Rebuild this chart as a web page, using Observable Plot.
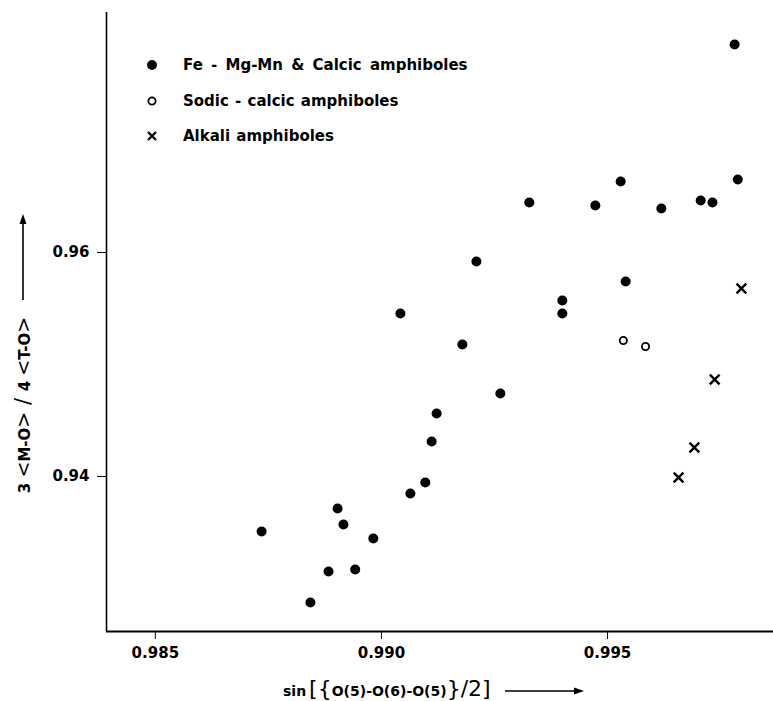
<!DOCTYPE html>
<html><head><meta charset="utf-8">
<script src="https://cdn.jsdelivr.net/npm/d3@7"></script>
<script src="https://cdn.jsdelivr.net/npm/@observablehq/plot@0.6"></script>
<style>
body{margin:0;background:#fff;}
#wrap{position:relative;width:773px;height:701px;}
#wrap svg{position:absolute;left:0;top:0;}
</style></head><body><div id="wrap"></div>
<script>
// Fe-Mg-Mn & Calcic amphiboles (filled)
const fillX = [0.99781,0.99788,0.99706,0.99732,0.99619,0.99529,0.99473,0.99327,0.99210,0.99540,0.99400,0.99400,0.99042,0.99179,0.99263,0.99122,0.99111,0.99097,0.99064,0.98903,0.98916,0.98982,0.98735,0.98883,0.98942,0.98843];
const fillY = [0.97857,0.96652,0.96464,0.96446,0.96393,0.96634,0.96420,0.96446,0.95920,0.95741,0.95571,0.95455,0.95455,0.95179,0.94741,0.94562,0.94313,0.93946,0.93848,0.93714,0.93571,0.93446,0.93509,0.93152,0.93170,0.92875];
// Sodic-calcic amphiboles (open)
const openX = [0.99535,0.99584];
const openY = [0.95214,0.95161];
// Alkali amphiboles (crosses)
const crossX = [0.99796,0.99737,0.99692,0.99657];
const crossY = [0.95679,0.94866,0.94259,0.93991];

const xTicks = [0.985,0.990,0.995];
const yTicks = [0.94,0.96];
const xDomain = [0.98392,0.99867];
const yDomain = [0.92616,0.98143];
const legendLabels = ["Fe - Mg-Mn & Calcic amphiboles","Sodic - calcic amphiboles","Alkali amphiboles"];
const legendSymbols = ["filled","open","cross"];

const toPts = (xs, ys) => xs.map((x,i)=>({x, y: ys[i]}));
const FONT = "DejaVu Sans";

const chart = Plot.plot({
  width: 773, height: 701,
  marginLeft: 106, marginRight: 0, marginTop: 12, marginBottom: 70,
  style: {fontFamily: FONT, fontSize: "15px", fontWeight: "bold", color: "#000", background: "#fff"},
  x: {domain: xDomain, ticks: xTicks, tickFormat: ".3f", label: null, tickSize: 8, tickPadding: 8},
  y: {domain: yDomain, ticks: yTicks, tickFormat: ".2f", label: null, tickSize: 9, tickPadding: 8},
  marks: [
    Plot.ruleX([xDomain[0]], {stroke: "#000", strokeWidth: 1.6}),
    Plot.ruleY([yDomain[0]], {stroke: "#000", strokeWidth: 2}),
    Plot.dot(toPts(fillX, fillY), {x: "x", y: "y", r: 5, fill: "#000", stroke: "none"}),
    Plot.dot(toPts(openX, openY), {x: "x", y: "y", r: 3.6, fill: "none", stroke: "#000", strokeWidth: 1.8}),
    Plot.dot(toPts(crossX, crossY), {x: "x", y: "y", symbol: "times", r: 4.5, stroke: "#000", strokeWidth: 2.4})
  ]
});
const wrap = document.getElementById("wrap");
wrap.appendChild(chart);

// Overlay: legend and axis titles
const ov = d3.select(wrap).append("svg").attr("width", 773).attr("height", 701)
  .style("font-family", FONT).style("font-weight", "bold");

const ly = [65, 101, 136];
legendSymbols.forEach((s, i) => {
  const g = ov.append("g").attr("transform", `translate(152,${ly[i]})`);
  if (s === "filled") g.append("circle").attr("r", 5).attr("fill", "#000");
  else if (s === "open") g.append("circle").attr("r", 3.6).attr("fill", "none").attr("stroke", "#000").attr("stroke-width", 1.8);
  else g.append("path").attr("d", "M-4,-4L4,4M4,-4L-4,4").attr("stroke", "#000").attr("stroke-width", 2.4);
  ov.append("text").attr("x", 183).attr("y", ly[i]).attr("dy", "0.35em")
    .attr("font-size", 15).attr("word-spacing", i === 0 ? 3 : 1).text(legendLabels[i]);
});

// Y axis title (rotated) with up arrow
const yt = ov.append("text").attr("transform", "translate(25,405) rotate(-90)")
  .attr("text-anchor", "middle").attr("dy", "0.35em").attr("font-size", 15);
const br = (t) => yt.append("tspan").attr("font-weight", "normal").attr("font-size", 19).text(t);
yt.append("tspan").text("3 "); br("<"); yt.append("tspan").text("M-O"); br(">");
yt.append("tspan").attr("font-weight", "normal").attr("font-size", 21).text(" / ");
yt.append("tspan").text("4 "); br("<"); yt.append("tspan").text("T-O"); br(">");
ov.append("line").attr("x1", 23).attr("x2", 23).attr("y1", 300).attr("y2", 222).attr("stroke", "#000").attr("stroke-width", 1.6);
ov.append("path").attr("d", "M23,214L19.5,224L26.5,224Z").attr("fill", "#000");

// X axis title with right arrow
const xt = ov.append("text").attr("x", 283).attr("y", 691).attr("dy", "0.35em").attr("font-size", 14);
xt.append("tspan").text("sin");
xt.append("tspan").attr("font-size", 22).attr("font-weight", "normal").attr("dx", 3).text("[{");
xt.append("tspan").text("O(5)-O(6)-O(5)");
xt.append("tspan").attr("font-size", 22).attr("font-weight", "normal").text("}/2]");
ov.append("line").attr("x1", 505).attr("x2", 576).attr("y1", 691).attr("y2", 691).attr("stroke", "#000").attr("stroke-width", 1.6);
ov.append("path").attr("d", "M584,691L574,687.5L574,694.5Z").attr("fill", "#000");
</script></body></html>
